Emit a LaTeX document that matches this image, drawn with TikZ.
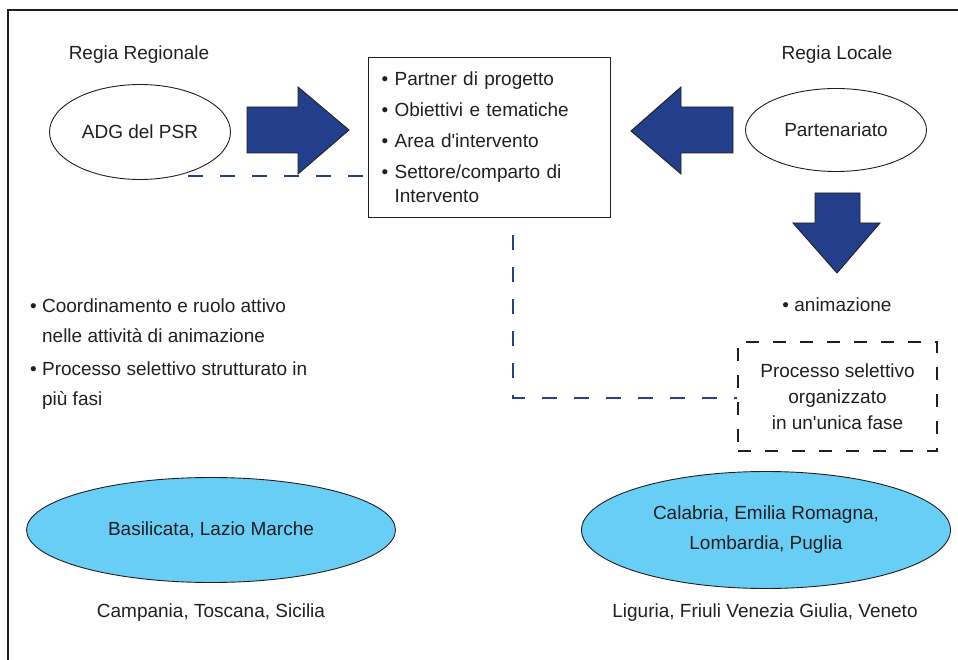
\documentclass[tikz,border=0pt]{standalone}
\usepackage{fontspec}
\setmainfont{Liberation Sans}
\usepackage{tikz}
\usetikzlibrary{shapes.geometric}
\definecolor{arrowblue}{HTML}{233F8C}
\definecolor{skyfill}{HTML}{69CEF5}
\definecolor{inkgray}{HTML}{231F20}
\tikzstyle{oval} = [draw=inkgray, shape=ellipse, line width=0.9, inner sep=0pt, align=center]
\tikzstyle{regfill} = [oval, fill=skyfill]
\tikzstyle{blockarrow} = [fill=arrowblue, draw=inkgray, line width=0.9, line join=miter]
\tikzstyle{link} = [draw=arrowblue, line width=1.8, dash pattern=on 15pt off 17pt]

\begin{document}
\begin{tikzpicture}[x=1pt, y=-1pt, every node/.style={text=inkgray, font=\fontsize{19}{24}\selectfont}]
    \useasboundingbox (0,0) rectangle (958,660);
    \draw[inkgray, line width=1.2] (8,660) -- (8,10) -- (958,10);
    \draw (139,55) node (regreg) {Regia Regionale};
    \draw (837,55) node (regloc) {Regia Locale};
    \draw (140,132) node[oval, minimum width=181, minimum height=95] (adg) {ADG del PSR};
    \draw (836,130) node[oval, minimum width=181, minimum height=83] (partner) {Partenariato};
    \draw (368,57) node[anchor=north west, draw=inkgray, line width=1.2, minimum width=242, minimum height=160, text width=216, inner xsep=13, align=left] (themes) {\textbullet\ Partner di progetto\\[7pt]
        \textbullet\ Obiettivi e tematiche\\[7pt]
        \textbullet\ Area d\textquotesingle intervento\\[7pt]
        \textbullet\ Settore/comparto di\\
        \phantom{\textbullet\ }Intervento};
    \filldraw[blockarrow] (247,107) -- (298,107) -- (298,87) -- (349,130) -- (298,174) -- (298,153) -- (247,153) -- cycle;
    \filldraw[blockarrow] (733,107) -- (681,107) -- (681,87) -- (631,131) -- (681,174) -- (681,153) -- (733,153) -- cycle;
    \filldraw[blockarrow] (815,193) -- (860,193) -- (860,223) -- (880,223) -- (837,273) -- (793,223) -- (815,223) -- cycle;
    \draw (837,305) node (anim) {\textbullet\ animazione};
    \draw (30,299) node[anchor=north west, inner sep=0pt, align=left, font=\fontsize{19}{30}\selectfont] (roles) {\textbullet\ Coordinamento e ruolo attivo\\
        \phantom{\textbullet\ }nelle attività di animazione\\[3pt]
        \textbullet\ Processo selettivo strutturato in\\
        \phantom{\textbullet\ }più fasi};
    \draw (837.5,396.5) node[draw=inkgray, line width=1.2, dash pattern=on 13pt off 14pt, minimum width=199, minimum height=109, align=center, font=\fontsize{19}{26}\selectfont] (proc) {Processo selettivo\\organizzato\\in un\textquotesingle unica fase};
    \coordinate (adgfoot) at (188,176);
    \coordinate (bend) at (513,398);
    \draw[link] (adgfoot) -- (adgfoot -| themes.west);
    \draw[link, dash phase=15pt] (themes.south -| bend) -- (bend) -- (bend -| proc.west);
    \draw (211,530) node[regfill, minimum width=369, minimum height=105] (south) {Basilicata, Lazio Marche};
    \draw (766,530) node[regfill, minimum width=369, minimum height=117, font=\fontsize{19}{30}\selectfont] (north) {Calabria, Emilia Romagna,\\Lombardia, Puglia};
    \draw (211,613) node (southlist) {Campania, Toscana, Sicilia};
    \draw (765,613) node (northlist) {Liguria, Friuli Venezia Giulia, Veneto};
\end{tikzpicture}
\end{document}
